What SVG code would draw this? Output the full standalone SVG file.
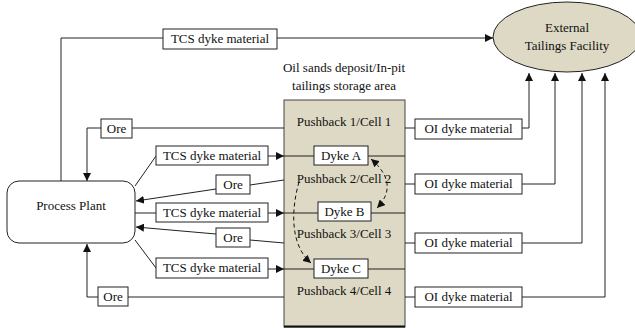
<svg xmlns="http://www.w3.org/2000/svg" width="635" height="328" viewBox="0 0 635 328">
<style>
text{font-family:"Liberation Serif","Times New Roman",serif;font-size:13px;fill:#111;text-anchor:middle}
.bx{fill:#fff;stroke:#222;stroke-width:1}
.ln{fill:none;stroke:#222;stroke-width:1}
.ar{fill:none;stroke:#222;stroke-width:1;marker-end:url(#ah)}
.ds{fill:none;stroke:#111;stroke-width:1;stroke-dasharray:4 3}
</style>
<defs>
<marker id="ah" viewBox="0 0 10 10" refX="10" refY="5" markerWidth="8" markerHeight="8" markerUnits="userSpaceOnUse" orient="auto">
<path d="M0,0 L10,5 L0,10 z" fill="#111"/>
</marker>
<marker id="ahs" viewBox="0 0 10 10" refX="0" refY="5" markerWidth="8" markerHeight="8" markerUnits="userSpaceOnUse" orient="auto">
<path d="M10,0 L0,5 L10,10 z" fill="#111"/>
</marker>
</defs>
<rect width="635" height="328" fill="#fff"/>

<g id="pit">
<rect x="284" y="100" width="121" height="227" fill="#DDD9C4" stroke="#444" stroke-width="1"/>
<line x1="284" y1="326.5" x2="405" y2="326.5" stroke="#111" stroke-width="2"/>
<text x="344" y="72">Oil sands deposit/In-pit</text>
<text x="344" y="90">tailings storage area</text>
<text x="344" y="126">Pushback 1/Cell 1</text>
<text x="344" y="183">Pushback 2/Cell 2</text>
<text x="344" y="238">Pushback 3/Cell 3</text>
<text x="344" y="295">Pushback 4/Cell 4</text>
</g>

<g id="connectors">
<!-- top TCS to external -->
<polyline class="ln" points="61,181 61,38 163,38"/>
<line class="ar" x1="277" y1="38" x2="493" y2="38"/>
<!-- ore 1 -->
<line class="ln" x1="284" y1="128" x2="132" y2="128"/>
<polyline class="ar" points="101,128 87,128 87,181"/>
<!-- TCS 2 -->
<line class="ln" x1="135" y1="186" x2="156" y2="156"/>
<line class="ar" x1="268" y1="156" x2="284" y2="156"/>
<line class="ln" x1="284" y1="156" x2="405" y2="156"/>
<!-- ore 2 -->
<line class="ln" x1="284" y1="180" x2="250" y2="185"/>
<line class="ar" x1="216" y1="189" x2="136" y2="201"/>
<!-- TCS 3 -->
<line class="ln" x1="135" y1="213" x2="156" y2="213"/>
<line class="ar" x1="268" y1="213" x2="284" y2="213"/>
<line class="ln" x1="284" y1="213" x2="405" y2="213"/>
<!-- ore 3 -->
<line class="ln" x1="284" y1="243" x2="250" y2="240"/>
<line class="ar" x1="216" y1="234" x2="136" y2="227"/>
<!-- TCS 4 -->
<line class="ln" x1="135" y1="240" x2="156" y2="268"/>
<line class="ar" x1="268" y1="269" x2="284" y2="269"/>
<line class="ln" x1="284" y1="269" x2="405" y2="269"/>
<!-- ore 4 -->
<line class="ln" x1="284" y1="297" x2="128" y2="297"/>
<polyline class="ar" points="98,297 87,297 87,244"/>
<!-- OI lines -->
<line class="ln" x1="405" y1="128" x2="415" y2="128"/>
<polyline class="ar" points="522,128 529,128 529,73"/>
<line class="ln" x1="405" y1="184" x2="415" y2="184"/>
<polyline class="ar" points="522,184 555,184 555,73"/>
<line class="ln" x1="405" y1="243" x2="415" y2="243"/>
<polyline class="ar" points="522,243 582,243 582,73"/>
<line class="ln" x1="405" y1="297" x2="415" y2="297"/>
<polyline class="ar" points="522,297 605,297 605,73"/>
<!-- dashed -->
<path class="ds" d="M371,159 Q400,184 377,208" marker-start="url(#ahs)" marker-end="url(#ah)"/>
<path class="ds" d="M299,182 C291,210 290,245 311,263" marker-end="url(#ah)"/>
</g>

<g id="external">
<ellipse cx="567" cy="37" rx="74" ry="35" fill="#DDD9C4" stroke="#222" stroke-width="1"/>
<text x="567" y="32">External</text>
<text x="567" y="50">Tailings Facility</text>
</g>

<g id="process-plant">
<rect x="7" y="181" width="128" height="62" rx="12" ry="12" class="bx"/>
<text x="71" y="210">Process Plant</text>
</g>

<g id="tcs-top"><rect class="bx" x="163" y="29" width="114" height="20"/><text x="220" y="43">TCS dyke material</text></g>
<g id="ore-1"><rect class="bx" x="101" y="119" width="31" height="19"/><text x="116.5" y="133">Ore</text></g>
<g id="tcs-2"><rect class="bx" x="156" y="146" width="112" height="19"/><text x="212" y="160">TCS dyke material</text></g>
<g id="ore-2"><rect class="bx" x="216" y="175" width="34" height="19"/><text x="233" y="189">Ore</text></g>
<g id="tcs-3"><rect class="bx" x="156" y="203" width="112" height="19"/><text x="212" y="217">TCS dyke material</text></g>
<g id="ore-3"><rect class="bx" x="216" y="228" width="34" height="19"/><text x="233" y="242">Ore</text></g>
<g id="tcs-4"><rect class="bx" x="156" y="258" width="112" height="20"/><text x="212" y="272">TCS dyke material</text></g>
<g id="ore-4"><rect class="bx" x="98" y="287" width="30" height="19"/><text x="113" y="301">Ore</text></g>

<g id="dyke-a"><rect class="bx" x="314" y="146" width="54" height="19"/><text x="341" y="160">Dyke A</text></g>
<g id="dyke-b"><rect class="bx" x="318" y="202" width="53" height="19"/><text x="344.5" y="216">Dyke B</text></g>
<g id="dyke-c"><rect class="bx" x="314" y="259" width="54" height="19"/><text x="341" y="273">Dyke C</text></g>

<g id="oi-1"><rect class="bx" x="415" y="119" width="107" height="20"/><text x="468.5" y="133">OI dyke material</text></g>
<g id="oi-2"><rect class="bx" x="415" y="174" width="107" height="20"/><text x="468.5" y="188">OI dyke material</text></g>
<g id="oi-3"><rect class="bx" x="415" y="233" width="107" height="20"/><text x="468.5" y="247">OI dyke material</text></g>
<g id="oi-4"><rect class="bx" x="415" y="287" width="107" height="20"/><text x="468.5" y="301">OI dyke material</text></g>
</svg>
